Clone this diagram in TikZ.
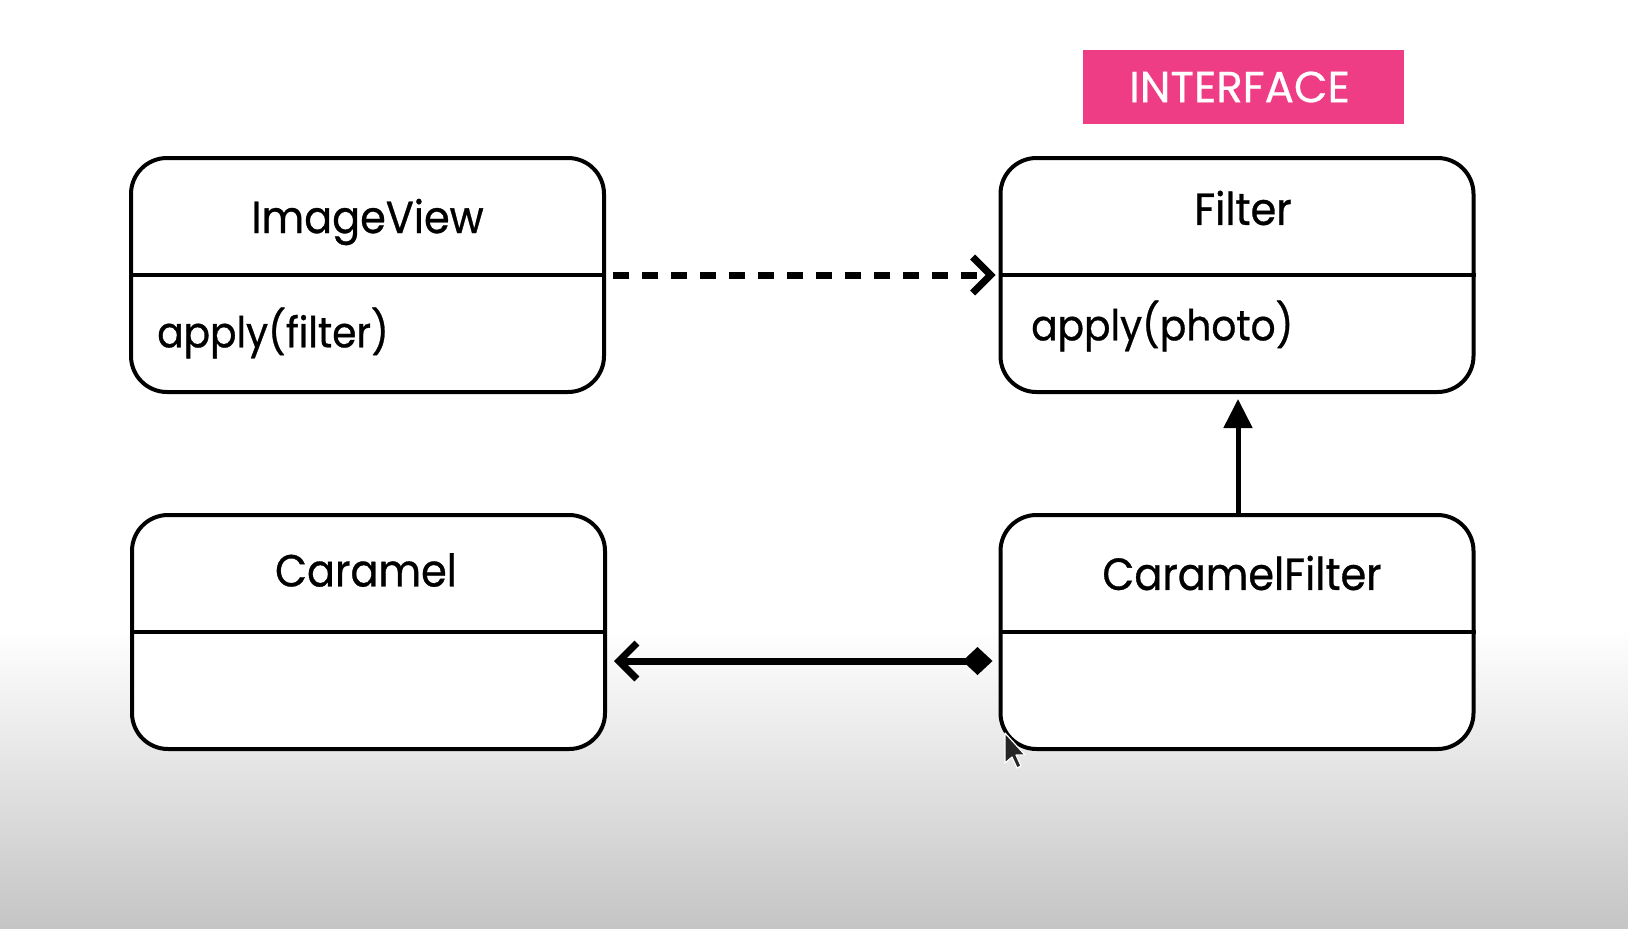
\documentclass[tikz,border=0pt]{standalone}
\usepackage{fontspec}
\setmainfont{Poppins}
\newfontfamily\popfont[FakeBold=0.7, FakeStretch=0.92]{Poppins}
\newfontfamily\tagfont[FakeBold=0.6]{Poppins}
\usetikzlibrary{arrows.meta}
\definecolor{pinkbg}{HTML}{EF3D85}
\tikzset{
  umlbox/.style={draw=black, line width=4pt, rounded corners=36pt, fill=white, minimum width=473pt, minimum height=234pt, inner sep=0pt},
  divider/.style={draw=black, line width=4pt},
  cname/.style={font=\popfont\fontsize{45}{52}\selectfont, inner sep=0pt, anchor=center},
  mname/.style={font=\popfont\fontsize{42.5}{50}\selectfont, inner sep=0pt, anchor=west},
  tag/.style={fill=pinkbg, minimum width=321pt, minimum height=74pt, inner sep=0pt},
  tagtext/.style={text=white, inner sep=0pt, font=\tagfont\fontsize{43.5}{50}\selectfont},
  dep/.style={line width=7pt, dash pattern=on 16pt off 13pt, -{Straight Barb[length=18pt, width=36pt, line width=7pt]}},
  real/.style={line width=5pt, -{Triangle[length=29pt, width=28pt]}},
  comp/.style={line width=7pt, {Straight Barb[length=18pt, width=36pt, line width=7pt]}-{Diamond[length=30pt, width=28pt]}},
}
\begin{document}
\begin{tikzpicture}[x=1pt, y=-1pt]
  \useasboundingbox (0,0) rectangle (1628,929);
  \fill[white] (0,0) rectangle (1628,630);
  \shade[top color=white, bottom color=black!23] (0,629) rectangle (1628,929);

  \node[tag] (itag) at (1243.5,87) {};
  \node[tagtext] (itagt) at (1239.5,87) {INTERFACE};

  \node[umlbox] (iv) at (367.5,275) {};
  \draw[divider] (iv.west) -- (iv.east);
  \node[cname] (ivn) at (367.5,222) {ImageView};
  \node[mname] (ivm) at (157,333) {apply(filter)};

  \node[umlbox] (f) at (1237,275) {};
  \draw[divider] (f.west) -- (f.east);
  \node[cname] (fn) at (1243,208) {Filter};
  \node[mname] (fm) at (1031,326) {apply(photo)};

  \node[umlbox] (c) at (368.5,632) {};
  \draw[divider] (c.west) -- (c.east);
  \node[cname] (cn) at (366,570) {Caramel};

  \node[umlbox] (cf) at (1237,632) {};
  \draw[divider] (cf.west) -- (cf.east);
  \node[cname] (cfn) at (1242,573) {CaramelFilter};

  \draw[dep] (iv.east) ++(7pt,0) coordinate (dstart) -- ([xshift=-3pt]f.west);
  \draw[real] ([xshift=1pt]cf.north) -- ([xshift=1pt, yshift=-5pt]f.south);
  \draw[comp] ([xshift=7pt, yshift=-29pt]c.east) -- ([xshift=-6pt, yshift=-29pt]cf.west);

  % mouse pointer
  \coordinate (cur) at (1005,733);
  \filldraw[fill=black!85, draw=white, line width=1.2pt, line join=round]
    (cur) -- ++(0,30) -- ++(7,-6) -- ++(5,11) -- ++(4,-2) -- ++(-5,-11) -- ++(9,0) -- cycle;
\end{tikzpicture}
\end{document}
